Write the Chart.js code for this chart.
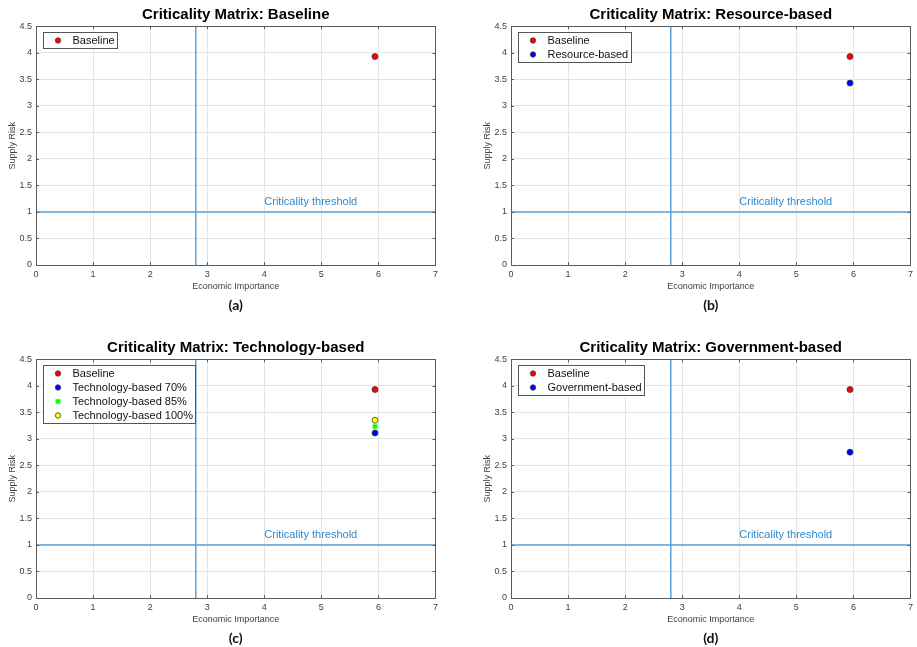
<!DOCTYPE html>
<html>
<head>
<meta charset="utf-8">
<title>Criticality Matrix</title>
<script src="https://cdn.jsdelivr.net/npm/chart.js@4.4.0/dist/chart.umd.min.js"></script>
<style>
  html, body { margin: 0; padding: 0; background: #fff; }
  body { width: 917px; height: 647px; position: relative; overflow: hidden; }
  .panel { position: absolute; width: 442px; height: 314px; }
</style>
</head>
<body>
<div class="panel" style="left:0;top:0"><canvas id="chartA" width="442" height="314"></canvas></div>
<div class="panel" style="left:475px;top:0"><canvas id="chartB" width="442" height="314"></canvas></div>
<div class="panel" style="left:0;top:333px"><canvas id="chartC" width="442" height="314"></canvas></div>
<div class="panel" style="left:475px;top:333px"><canvas id="chartD" width="442" height="314"></canvas></div>

<script>
// ===== DATA =====
const xTicks = [0, 1, 2, 3, 4, 5, 6, 7];
const yTicks = [0, 0.5, 1, 1.5, 2, 2.5, 3, 3.5, 4, 4.5];

const econImportance = [5.94];   // same material in every scenario
const baselineRisk = [3.93];
const resourceRisk = [3.43];
const tech70Risk = [3.11];
const tech85Risk = [3.23];
const tech100Risk = [3.35];
const governmentRisk = [2.75];

const thresholdEI = 2.8;
const thresholdSR = 1;
const thresholdLabel = 'Criticality threshold';
const thresholdLabelAt = { x: 4, y: 1.19 };

// ===== STYLE =====
const FONT = '"Liberation Sans", Arial, sans-serif';
const LINE_BLUE = '#5aa2da';
const TEXT_BLUE = '#2f89cf';
const AXIS_GRAY = '#404040';

function series(label, ys, color, shape, edge) {
  return {
    label: label,
    data: ys.map((y, i) => ({ x: econImportance[i], y: y })),
    backgroundColor: color,
    borderColor: edge || '#3a3a3a',
    borderWidth: 0.8,
    pointStyle: shape,
    pointRadius: 3,
    pointHoverRadius: 3,
    showLine: false,
    order: 0
  };
}

function thresholdLines() {
  const common = {
    showLine: true, borderColor: LINE_BLUE, borderWidth: 1.5,
    pointRadius: 0, pointHoverRadius: 0, order: 5, isThreshold: true
  };
  return [
    Object.assign({ label: 'vertical', data: [
      { x: thresholdEI, y: yTicks[0] }, { x: thresholdEI, y: yTicks[yTicks.length - 1] }
    ] }, common),
    Object.assign({ label: 'horizontal', data: [
      { x: xTicks[0], y: thresholdSR }, { x: xTicks[xTicks.length - 1], y: thresholdSR }
    ] }, common)
  ];
}

// ===== MATLAB-LIKE EXTRAS (box, inner ticks, threshold text, legend) =====
const matlabLook = {
  id: 'matlabLook',
  afterDatasetsDraw(chart) {
    const ctx = chart.ctx;
    const x = chart.scales.x, y = chart.scales.y;
    ctx.save();
    ctx.fillStyle = TEXT_BLUE;
    ctx.font = '11px ' + FONT;
    ctx.textBaseline = 'middle';
    ctx.textAlign = 'left';
    ctx.fillText(thresholdLabel, x.getPixelForValue(thresholdLabelAt.x), y.getPixelForValue(thresholdLabelAt.y));
    ctx.restore();
  },
  afterDraw(chart) {
    const ctx = chart.ctx;
    const a = chart.chartArea;
    const x = chart.scales.x, y = chart.scales.y;
    ctx.save();
    ctx.strokeStyle = '#5a5a5a';
    ctx.lineWidth = 1;
    ctx.strokeRect(Math.round(a.left) + 0.5, Math.round(a.top) + 0.5,
      Math.round(a.right - a.left), Math.round(a.bottom - a.top));

    // tick marks inside the box
    ctx.beginPath();
    xTicks.forEach(v => {
      const px = Math.round(x.getPixelForValue(v)) + 0.5;
      ctx.moveTo(px, a.bottom); ctx.lineTo(px, a.bottom - 3);
      ctx.moveTo(px, a.top); ctx.lineTo(px, a.top + 3);
    });
    yTicks.forEach(v => {
      const py = Math.round(y.getPixelForValue(v)) + 0.5;
      ctx.moveTo(a.left, py); ctx.lineTo(a.left + 3, py);
      ctx.moveTo(a.right, py); ctx.lineTo(a.right - 3, py);
    });
    ctx.stroke();

    // legend box
    const items = chart.data.datasets.filter(d => !d.isThreshold);
    ctx.font = '11px ' + FONT;
    const rowH = 14;
    const textW = Math.max(...items.map(d => ctx.measureText(d.label).width));
    const bx = Math.round(a.left + 7) + 0.5;
    const by = Math.round(a.top + 6) + 0.5;
    const bw = Math.round(29 + textW + 3);
    const bh = items.length * rowH + 2;
    ctx.fillStyle = '#fff';
    ctx.fillRect(bx, by, bw, bh);
    ctx.strokeStyle = '#555';
    ctx.strokeRect(bx, by, bw, bh);
    items.forEach((d, i) => {
      const cy = by + 8 + i * rowH;
      const cx = bx + 14.5;
      ctx.fillStyle = d.backgroundColor;
      ctx.strokeStyle = d.borderColor;
      ctx.lineWidth = 0.8;
      ctx.beginPath();
      if (d.pointStyle === 'rect') {
        ctx.rect(cx - 2.2, cy - 2.2, 4.4, 4.4);
      } else {
        ctx.arc(cx, cy, 2.7, 0, Math.PI * 2);
      }
      ctx.fill();
      ctx.stroke();
      ctx.fillStyle = '#111';
      ctx.textBaseline = 'middle';
      ctx.textAlign = 'left';
      ctx.fillText(d.label, bx + 29, cy);
    });
    ctx.restore();
  }
};

// ===== BUILD ONE PANEL =====
function makePanel(canvasId, title, letter, datasets) {
  const ctx = document.getElementById(canvasId).getContext('2d');
  return new Chart(ctx, {
    type: 'scatter',
    data: { datasets: thresholdLines().concat(datasets) },
    options: {
      responsive: false,
      devicePixelRatio: 1,
      animation: false,
      events: [],
      layout: { padding: { left: 0, right: 5, top: 0, bottom: 0 } },
      plugins: {
        legend: { display: false },
        tooltip: { enabled: false },
        title: {
          display: true, text: title, fullSize: false, color: '#000',
          font: { family: FONT, size: 15, weight: 'bold' },
          padding: { top: 6, bottom: 2.3 }
        },
        subtitle: {
          display: true, text: letter, position: 'bottom', fullSize: false, color: '#111',
          font: { family: 'Lato, "Open Sans", sans-serif', size: 14, weight: 'bold' },
          padding: { top: 0, bottom: 0.1 }
        }
      },
      scales: {
        x: {
          type: 'linear',
          min: xTicks[0], max: xTicks[xTicks.length - 1],
          ticks: { stepSize: xTicks[1] - xTicks[0], color: AXIS_GRAY, padding: 4,
            font: { family: FONT, size: 9 }, callback: v => String(v) },
          grid: { color: '#e4e4e4', drawTicks: false },
          border: { display: false },
          title: { display: true, text: 'Economic Importance', color: AXIS_GRAY,
            font: { family: FONT, size: 9 }, padding: { top: 0, bottom: 5.2 } },
          afterFit: s => { s.height = 32.1; }
        },
        y: {
          type: 'linear',
          min: yTicks[0], max: yTicks[yTicks.length - 1],
          ticks: { stepSize: yTicks[1] - yTicks[0], color: AXIS_GRAY, padding: 4,
            font: { family: FONT, size: 9 }, callback: v => String(v) },
          grid: { color: '#e4e4e4', drawTicks: false },
          border: { display: false },
          title: { display: true, text: 'Supply Risk', color: AXIS_GRAY,
            font: { family: FONT, size: 9 }, padding: { top: 7, bottom: 0 } },
          afterFit: s => { s.width = 36; }
        }
      }
    },
    plugins: [matlabLook]
  });
}

// ===== THE FOUR SCENARIOS =====
makePanel('chartA', 'Criticality Matrix: Baseline', '(a)', [
  series('Baseline', baselineRisk, '#ff0000', 'circle')
]);

makePanel('chartB', 'Criticality Matrix: Resource-based', '(b)', [
  series('Baseline', baselineRisk, '#ff0000', 'circle'),
  series('Resource-based', resourceRisk, '#0000ff', 'circle')
]);

makePanel('chartC', 'Criticality Matrix: Technology-based', '(c)', [
  series('Baseline', baselineRisk, '#ff0000', 'circle'),
  series('Technology-based 70%', tech70Risk, '#0000ff', 'circle'),
  series('Technology-based 85%', tech85Risk, '#00ff00', 'rect', '#66ee66'),
  series('Technology-based 100%', tech100Risk, '#ffff00', 'circle')
]);

makePanel('chartD', 'Criticality Matrix: Government-based', '(d)', [
  series('Baseline', baselineRisk, '#ff0000', 'circle'),
  series('Government-based', governmentRisk, '#0000ff', 'circle')
]);
</script>
</body>
</html>
